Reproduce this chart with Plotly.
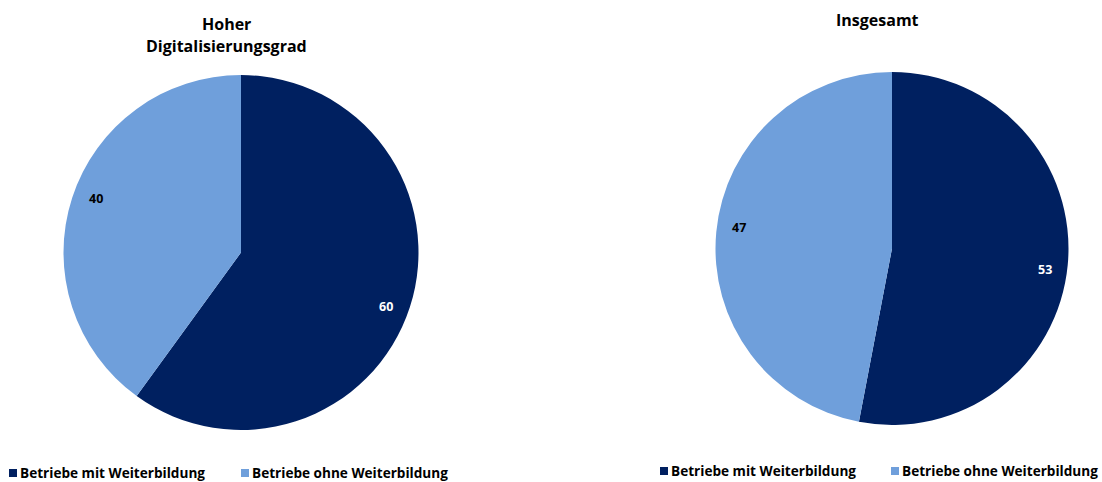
import math
import plotly.graph_objects as go

# Data
categories = ["Betriebe mit Weiterbildung", "Betriebe ohne Weiterbildung"]
hoch_values = [60, 40]
gesamt_values = [53, 47]
titles = ["Hoher<br>Digitalisierungsgrad", "Insgesamt"]

# Styling
colors = ["#002060", "#6F9FDB"]
label_colors = ["#FFFFFF", "#000000"]
FONT = "'Open Sans', Lato, sans-serif"

W, H = 1102, 482

# Panel geometry in pixels (pie center, radius, title and legend placement)
panels = [
    dict(values=hoch_values, title=titles[0], cx=241, cy=252.5, r=177.5,
         title_x=226, title_y=[23.5, 46.5], legend_y=473, legend_x=[9, 241]),
    dict(values=gesamt_values, title=titles[1], cx=892, cy=248.5, r=176.5,
         title_x=877, title_y=[20.5], legend_y=471, legend_x=[660, 891]),
]
LABEL_RADIUS = 0.875            # fraction of pie radius
LABEL_TURN = math.radians(2.5)  # small clockwise nudge off the bisector
KEY = 8                         # legend key square size in px


def px_x(x):
    return x / W


def px_y(y):
    return 1 - y / H


fig = go.Figure()
annotations = []
shapes = []

for p in panels:
    cx, cy, r = p["cx"], p["cy"], p["r"]
    fig.add_trace(go.Pie(
        labels=categories,
        values=p["values"],
        sort=False,
        direction="clockwise",
        rotation=0,
        marker=dict(colors=colors, line=dict(width=0)),
        textinfo="none",
        hoverinfo="label+value",
        showlegend=False,
        domain=dict(x=[px_x(cx - r), px_x(cx + r)],
                    y=[px_y(cy + r), px_y(cy - r)]),
    ))

    # value labels placed near each slice's bisector
    total = sum(p["values"])
    start = 0.0
    for i, v in enumerate(p["values"]):
        mid = (start + v / 2) / total * 2 * math.pi + LABEL_TURN
        start += v
        lx = cx + LABEL_RADIUS * r * math.sin(mid)
        ly = cy - LABEL_RADIUS * r * math.cos(mid)
        annotations.append(dict(
            x=px_x(lx), y=px_y(ly), xref="paper", yref="paper",
            text=f"<b>{v}</b>", showarrow=False,
            font=dict(family=FONT, size=12.5, color=label_colors[i]),
            xanchor="center", yanchor="middle",
        ))

    # panel title, one annotation per line for wider line spacing
    for line, ty in zip(p["title"].split("<br>"), p["title_y"]):
        annotations.append(dict(
            x=px_x(p["title_x"]), y=px_y(ty), xref="paper", yref="paper",
            text=f"<b>{line}</b>", showarrow=False,
            font=dict(family=FONT, size=16, color="#000000"),
            xanchor="center", yanchor="middle",
        ))

    # legend entries: colored key square plus label
    ly = p["legend_y"]
    for i, cat in enumerate(categories):
        kx = p["legend_x"][i]
        shapes.append(dict(
            type="rect", xref="paper", yref="paper",
            x0=px_x(kx), x1=px_x(kx + KEY),
            y0=px_y(ly + KEY / 2), y1=px_y(ly - KEY / 2),
            fillcolor=colors[i], line=dict(width=0),
        ))
        annotations.append(dict(
            x=px_x(kx + KEY + 2), y=px_y(ly - 0.5),
            xref="paper", yref="paper",
            text=f"<b>{cat}</b>",
            showarrow=False, borderpad=0,
            font=dict(family=FONT, size=13.6, color="#000000"),
            xanchor="left", yanchor="middle",
        ))

fig.update_layout(
    width=W, height=H,
    margin=dict(l=0, r=0, t=0, b=0),
    paper_bgcolor="#FFFFFF",
    plot_bgcolor="#FFFFFF",
    annotations=annotations,
    shapes=shapes,
    showlegend=False,
)

fig.write_html("out.html")
